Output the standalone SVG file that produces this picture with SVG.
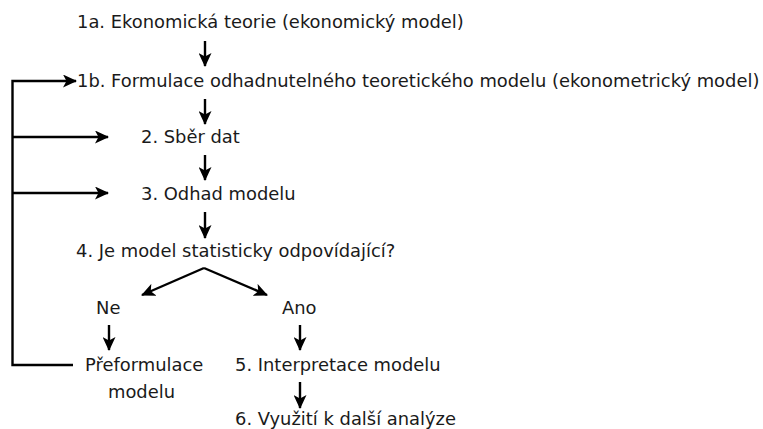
<svg xmlns="http://www.w3.org/2000/svg" width="763" height="429" viewBox="0 0 763 429">
<style>
text{font-family:"DejaVu Sans",Verdana,sans-serif;font-size:17.9px;fill:#1a1a1a}
.c{stroke:#000;stroke-width:2.4;fill:none}
</style>
<defs>
<marker id="ah" viewBox="0 0 14 13" refX="13" refY="6.5" markerWidth="14" markerHeight="13" markerUnits="userSpaceOnUse" orient="auto">
<path d="M0,0 L14,6.5 L0,13 L3.5,6.5 Z" fill="#000"/>
</marker>
</defs>
<rect width="763" height="429" fill="#fff"/>
<g id="connectors">
<path class="c" d="M205,41 V66" marker-end="url(#ah)"/>
<path class="c" d="M205,99 V124" marker-end="url(#ah)"/>
<path class="c" d="M205,155 V180" marker-end="url(#ah)"/>
<path class="c" d="M205,212 V238" marker-end="url(#ah)"/>
<path class="c" d="M204,268 L142,295" marker-end="url(#ah)"/>
<path class="c" d="M204,268 L267,295" marker-end="url(#ah)"/>
<path class="c" d="M109,325 V350" marker-end="url(#ah)"/>
<path class="c" d="M300,325 V350" marker-end="url(#ah)"/>
<path class="c" d="M300,382 V408" marker-end="url(#ah)"/>
<path class="c" d="M73,365 H12.5 V81 H76" marker-end="url(#ah)"/>
<path class="c" d="M12.5,137 H108" marker-end="url(#ah)"/>
<path class="c" d="M12.5,193 H108" marker-end="url(#ah)"/>
</g>
<g id="n1a"><text x="77" y="28">1a. Ekonomická teorie (ekonomický model)</text></g>
<g id="n1b"><text x="77" y="87">1b. Formulace odhadnutelného teoretického modelu (ekonometrický model)</text></g>
<g id="n2"><text x="141" y="143">2. Sběr dat</text></g>
<g id="n3"><text x="141" y="200">3. Odhad modelu</text></g>
<g id="n4"><text x="76" y="257">4. Je model statisticky odpovídající?</text></g>
<g id="nNe"><text x="96" y="314">Ne</text></g>
<g id="nAno"><text x="282" y="314">Ano</text></g>
<g id="nPref"><text x="85" y="371">Přeformulace</text><text x="108" y="398">modelu</text></g>
<g id="n5"><text x="235" y="371">5. Interpretace modelu</text></g>
<g id="n6"><text x="235" y="425">6. Využití k další analýze</text></g>
</svg>
